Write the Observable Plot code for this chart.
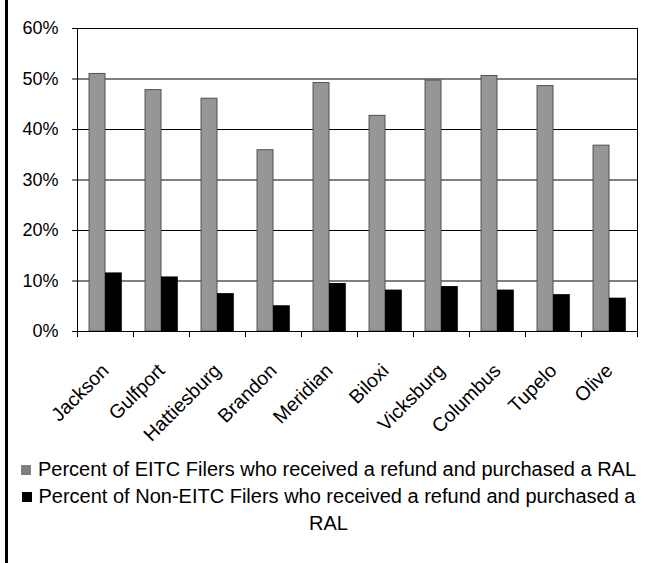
<!DOCTYPE html>
<html><head><meta charset="utf-8">
<script src="https://cdn.jsdelivr.net/npm/d3@7"></script>
<script src="https://cdn.jsdelivr.net/npm/@observablehq/plot@0.6"></script>
<style>
html,body{margin:0;padding:0;background:#fff;}
body{width:645px;height:563px;position:relative;overflow:hidden;font-family:"Liberation Sans",Arial,sans-serif;}
#border{position:absolute;left:5px;top:0;width:2.5px;height:563px;background:#000;}
#chart{position:absolute;left:0;top:0;}
#legend{position:absolute;left:12px;width:633px;top:456px;text-align:center;font-size:20px;line-height:27px;color:#000;}
.sw{display:inline-block;width:10px;height:10px;margin-right:7px;vertical-align:1px;}
</style>
</head><body>
<div id="border"></div>
<div id="chart"></div>
<div id="legend"></div>
<script>
const cities = ["Jackson","Gulfport","Hattiesburg","Brandon","Meridian","Biloxi","Vicksburg","Columbus","Tupelo","Olive"];
const eitc = [51.0,47.8,46.1,35.9,49.2,42.7,49.7,50.6,48.6,36.8];
const nonEitc = [11.6,10.8,7.5,5.1,9.5,8.2,8.9,8.2,7.3,6.6];
const yTicks = [0,10,20,30,40,50,60];
const seriesNames = [
  "Percent of EITC Filers who received a refund and purchased a RAL",
  "Percent of Non-EITC Filers who received a refund and purchased a RAL"
];
const seriesColors = ["#969696","#000000"];

const W = 645, H = 460, ML = 77, MR = 8;
const bw = (W - ML - MR) / cities.length;

const eitcRows = cities.map((c,i)=>({city:c, value:eitc[i]}));
const nonRows = cities.map((c,i)=>({city:c, value:nonEitc[i]}));

const chart = Plot.plot({
  width: W, height: H,
  marginLeft: ML, marginRight: MR, marginTop: 28, marginBottom: H - 331,
  style: {fontFamily: '"Liberation Sans", Arial, sans-serif', fontSize: "18px", color: "#000", background: "transparent"},
  x: {domain: cities, padding: 0, axis: null, label: null},
  y: {domain: [0,60], axis: null, label: null},
  marks: [
    Plot.gridY(yTicks, {stroke: "#000", strokeOpacity: 1}),
    Plot.axisY(yTicks, {tickSize: 5, tickPadding: 14, tickFormat: d => d + "%", fontSize: 18, label: null}),
    Plot.barY(eitcRows, {x: "city", y: "value", fill: seriesColors[0], stroke: "#505050", strokeWidth: 1, insetLeft: bw*0.215, insetRight: bw*0.5}),
    Plot.barY(nonRows, {x: "city", y: "value", fill: seriesColors[1], insetLeft: bw*0.5, insetRight: bw*0.2}),
    Plot.frame({stroke: "#000"}),
    Plot.axisX(cities, {tickSize: 6, tickFormat: () => "", dx: -bw/2, label: null}),
    Plot.axisX([cities[cities.length-1]], {tickSize: 6, tickFormat: () => "", dx: bw/2, label: null}),
    Plot.axisX(cities, {tickSize: 0, tickPadding: 36, tickRotate: -45, fontSize: 19.5, label: null})
  ]
});
document.getElementById("chart").appendChild(chart);

const leg = document.getElementById("legend");
leg.innerHTML =
  `<div><span class="sw" style="background:#808080"></span>${seriesNames[0]}</div>` +
  `<div><span class="sw" style="background:${seriesColors[1]}"></span>${seriesNames[1].replace(/ RAL$/, "")}<br>RAL</div>`;
</script>
</body></html>
